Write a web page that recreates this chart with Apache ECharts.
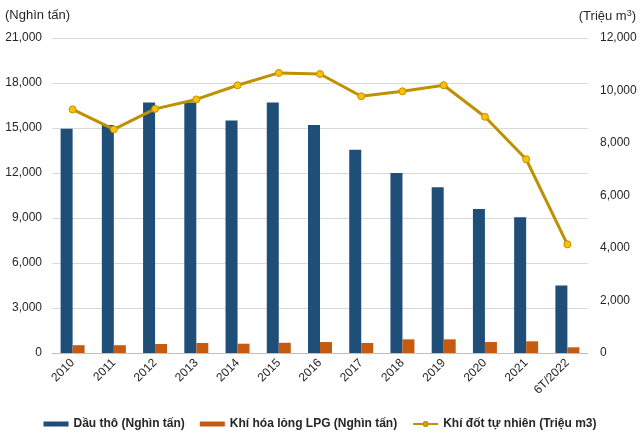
<!DOCTYPE html>
<html><head><meta charset="utf-8">
<script src="https://cdn.jsdelivr.net/npm/echarts@6/dist/echarts.min.js"></script>
<style>html,body{margin:0;padding:0;background:#fff}#c{width:640px;height:437px}</style>
</head><body><div id="c"></div>
<script>
const categories = ['2010','2011','2012','2013','2014','2015','2016','2017','2018','2019','2020','2021','6T/2022'];
const crudeOil = [14950,15200,16700,16700,15500,16700,15200,13550,12000,11050,9600,9050,4500];
const lpg = [520,520,600,670,620,680,730,670,910,910,730,780,380];
const naturalGas = [9280,8520,9300,9660,10200,10670,10630,9780,9970,10200,9000,7380,4140];
const seriesNames = ['Dầu thô (Nghìn tấn)','Khí hóa lỏng LPG (Nghìn tấn)','Khí đốt tự nhiên (Triệu m3)'];

const chart = echarts.init(document.getElementById('c'));
const font = 'Liberation Sans, Arial, sans-serif';
chart.setOption({
  animation:false,
  textStyle:{fontFamily:font},
  grid:{left:52,right:52,top:38,bottom:84},
  legend:{
    bottom:2,left:'center',itemGap:15,itemWidth:25,itemHeight:5,
    textStyle:{fontFamily:font,fontSize:12,fontWeight:'bold',color:'#262626'},
    data:[{name:seriesNames[0],icon:'rect'},{name:seriesNames[1],icon:'rect'},{name:seriesNames[2]}]
  },
  graphic:[
    {type:'text',left:5,top:9,style:{text:'(Nghìn tấn)',font:'13px '+font,fill:'#262626'}},
    {type:'text',right:4,top:9,style:{text:'(Triệu m{s|3})',font:'13px '+font,fill:'#262626',rich:{s:{fontSize:9,verticalAlign:'top',padding:[0,0,6,0]}}}}
  ],
  xAxis:{type:'category',data:categories,
    axisLine:{lineStyle:{color:'#bfbfbf'}},axisTick:{show:false},
    axisLabel:{rotate:45,fontSize:12,color:'#262626',margin:8,interval:0}},
  yAxis:[
    {type:'value',min:0,max:21000,interval:3000,
      axisLabel:{fontSize:12,color:'#262626',margin:10,formatter:v=>v.toLocaleString('en-US')},
      splitLine:{lineStyle:{color:'#d9d9d9'}},axisLine:{show:false},axisTick:{show:false}},
    {type:'value',min:0,max:12000,interval:2000,
      axisLabel:{fontSize:12,color:'#262626',margin:12,formatter:v=>v.toLocaleString('en-US')},
      splitLine:{show:false},axisLine:{show:false},axisTick:{show:false}}
  ],
  series:[
    {name:seriesNames[0],type:'bar',data:crudeOil,barWidth:12,barGap:'0%',itemStyle:{color:'#1F4E79'}},
    {name:seriesNames[1],type:'bar',data:lpg,barWidth:12,itemStyle:{color:'#C55A11'}},
    {name:seriesNames[2],type:'line',yAxisIndex:1,data:naturalGas,symbol:'circle',symbolSize:7,
      lineStyle:{color:'#BF9000',width:3},itemStyle:{color:'#FFC000',borderColor:'#BF9000',borderWidth:1}}
  ]
});
</script></body></html>
